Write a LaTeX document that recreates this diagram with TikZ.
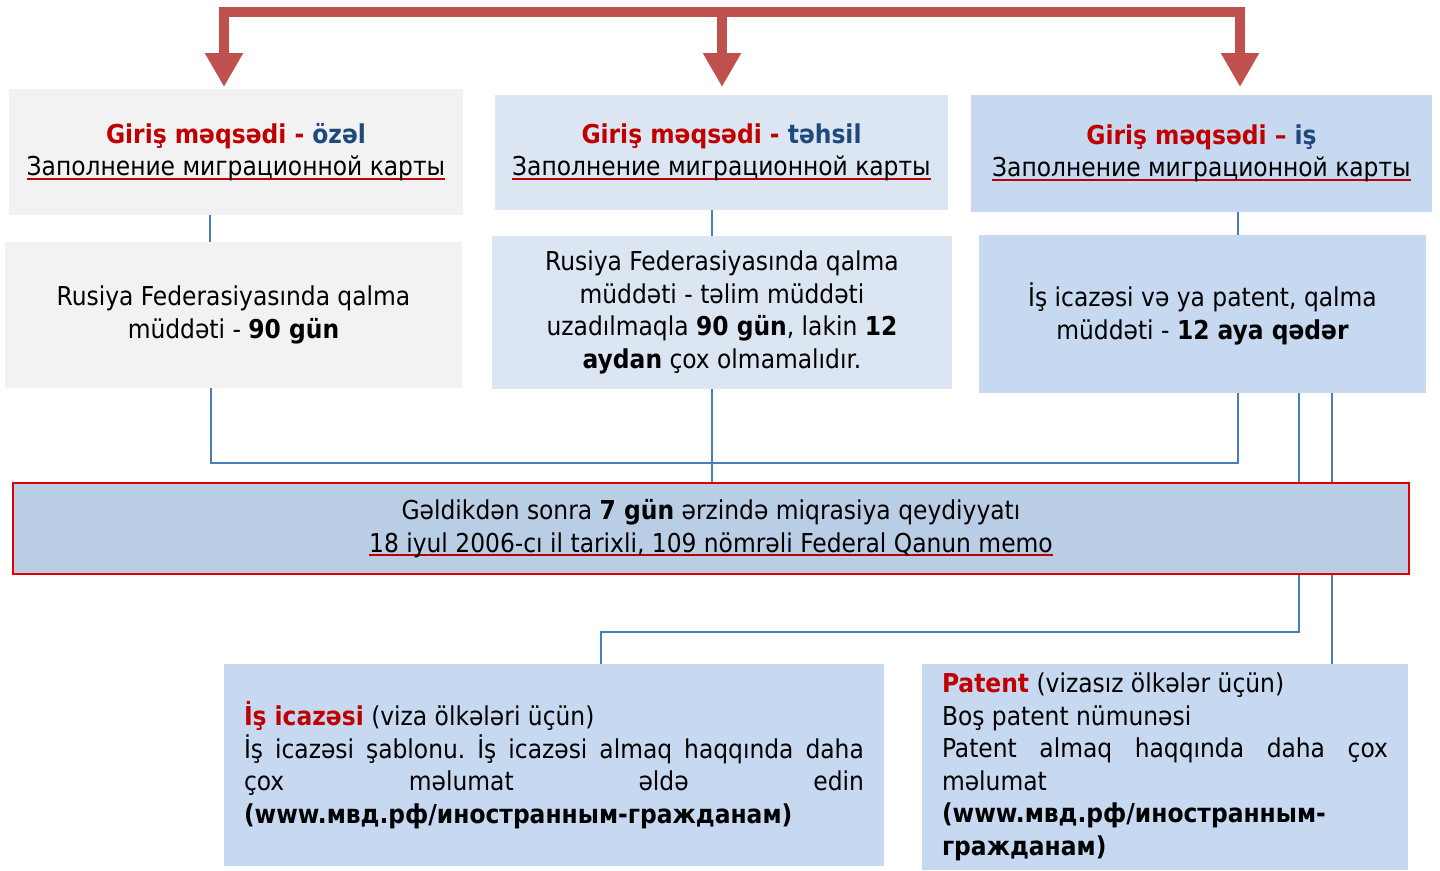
\documentclass[tikz,border=0pt]{standalone}
\usepackage{fontspec}
\setmainfont{DejaVu Sans Condensed}
\usetikzlibrary{arrows.meta}
\usetikzlibrary{calc}
\usetikzlibrary{backgrounds}

\definecolor{boxgray}{HTML}{F2F2F2}
\definecolor{boxpale}{HTML}{DCE6F2}
\definecolor{boxblue}{HTML}{C6D9F1}
\definecolor{memoblue}{HTML}{B9CDE5}
\definecolor{memored}{HTML}{E00000}
\definecolor{titlered}{HTML}{C00000}
\definecolor{titleblue}{HTML}{1F497D}
\definecolor{ulred}{HTML}{C00000}
\definecolor{linkblue}{HTML}{4A7EBB}
\definecolor{arrowred}{HTML}{C0504D}

\newsavebox\ulbox
\newcommand\redul[1]{\leavevmode\sbox\ulbox{#1}\rlap{\color{ulred}\rule[-4pt]{\wd\ulbox}{2pt}}\usebox\ulbox}

\begin{document}
\frenchspacing
\begin{tikzpicture}[x=1pt, y=-1pt,
	every node/.style={font=\fontsize{26}{32.5}\selectfont},
	box/.style={rectangle, inner sep=0pt, align=center},
	textbox/.style={rectangle, fill=boxblue, inner xsep=20pt, inner ysep=0pt, align=justify},
	link/.style={draw=linkblue, line width=1.6pt},
	bigarrow/.style={draw=arrowred, line width=10pt}]
	\useasboundingbox (0,0) rectangle (1440,870);

	% goals
	\node[box, fill=boxgray, minimum width=454pt, minimum height=126pt] (ozel) at (236,152)
		{\textbf{\color{titlered}Giriş məqsədi - \color{titleblue}özəl}\\ \redul{Заполнение миграционной карты}};
	\node[box, fill=boxpale, minimum width=453pt, minimum height=115pt] (tehsil) at (721.5,152.5)
		{\textbf{\color{titlered}Giriş məqsədi - \color{titleblue}təhsil}\\ \redul{Заполнение миграционной карты}};
	\node[box, fill=boxblue, minimum width=461pt, minimum height=117pt] (ish) at (1201.5,153.5)
		{\textbf{\color{titlered}Giriş məqsədi -- \color{titleblue}iş}\\ \redul{Заполнение миграционной карты}};

	% stay
	\node[box, fill=boxgray, minimum width=457pt, minimum height=146pt] (stayozel) at (233.5,315)
		{Rusiya Federasiyasında qalma\\ müddəti - \textbf{90 gün}};
	\node[box, fill=boxpale, minimum width=460pt, minimum height=153pt] (staytehsil) at (722,312.5)
		{Rusiya Federasiyasında qalma\\ müddəti - təlim müddəti\\ uzadılmaqla \textbf{90 gün}, lakin \textbf{12}\\ \textbf{aydan} çox olmamalıdır.};
	\node[box, fill=boxblue, minimum width=447pt, minimum height=158pt] (stayish) at (1202.5,314)
		{İş icazəsi və ya patent, qalma\\ müddəti - \textbf{12 aya qədər}};

	% registration
	\node[box, fill=memoblue, draw=memored, line width=1.5pt, minimum width=1396pt, minimum height=91pt] (memo) at (711,528.5)
		{Gəldikdən sonra \textbf{7 gün} ərzində miqrasiya qeydiyyatı\\ \redul{18 iyul 2006-cı il tarixli, 109 nömrəli Federal Qanun memo}};

	% work
	\node[textbox, text width=620pt, minimum height=202pt] (icaze) at (554,765)
		{\textbf{\color{titlered}İş icazəsi} (viza ölkələri üçün)\\
		İş icazəsi şablonu. İş icazəsi almaq haqqında daha\linebreak çox məlumat əldə edin\linebreak
		\textbf{(www.мвд.рф/иностранным-гражданам)}};
	\node[textbox, text width=446pt, minimum height=206pt] (patent) at (1165,767)
		{\textbf{\color{titlered}Patent} (vizasız ölkələr üçün)\\
		Boş patent nümunəsi\\
		Patent almaq haqqında daha çox\linebreak məlumat\\
		\textbf{(www.мвд.рф/иностранным-}\\ \textbf{гражданам)}};

	% top bracket
	\coordinate (topL) at (224,12);
	\coordinate (topM) at (722,12);
	\coordinate (topR) at (1240,12);
	\coordinate (tipL) at (224,87);
	\coordinate (tipM) at (722,87);
	\coordinate (tipR) at (1240,87);
	\draw[bigarrow, {Triangle[width=36pt,length=34pt]}-{Triangle[width=36pt,length=34pt]}] (tipL) |- (topR) -- (tipR);
	\draw[bigarrow, -{Triangle[width=36pt,length=34pt]}] (topM) -- (tipM);

	% connectors
	\coordinate (merge) at (1238,463);
	\begin{pgfonlayer}{background}
		\draw[link] ($(ozel.south)+(-26,0)$) -- ($(stayozel.north)+(-23.5,0)$);
		\draw[link] ($(tehsil.south)+(-9.5,0)$) -- ($(staytehsil.north)+(-10,0)$);
		\draw[link] ($(ish.south)+(36.5,0)$) -- ($(stayish.north)+(35.5,0)$);
		\draw[link] ($(stayozel.south)+(-22.5,0)$) |- (merge) -- ($(stayish.south)+(35.5,0)$);
		\draw[link] ($(staytehsil.south)+(-10,0)$) -- ($(memo.north)+(1,0)$);
		\draw[link] ($(stayish.south)+(96.5,0)$) |- ($(icaze.north)+(47,-32)$) -- ($(icaze.north)+(47,0)$);
		\draw[link] ($(stayish.south)+(129.5,0)$) -- ($(patent.north)+(167,0)$);
	\end{pgfonlayer}
\end{tikzpicture}
\end{document}
